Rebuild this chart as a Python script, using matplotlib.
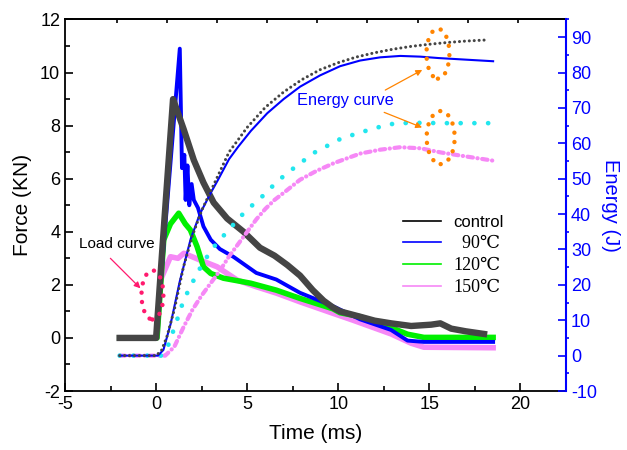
import matplotlib

matplotlib.use("Agg")
import matplotlib.pyplot as plt
from matplotlib.patches import Ellipse

plt.rcParams["font.family"] = ["Liberation Sans", "DejaVu Sans"]
plt.rcParams["axes.unicode_minus"] = False

# force (KN)
t_ctrl = [-2, 0.0, 0.45, 0.93, 1.52, 2.07, 2.6, 3.16, 3.9, 4.8, 5.7, 6.5, 7.2, 7.9, 8.6, 9.2, 9.7,
          10.1, 11.2, 12.0, 12.9, 14.0, 15.1, 15.6, 16.2, 17.0, 18.0]
f_ctrl = [0, 0, 4.4, 9.0, 7.85, 6.7, 5.85, 5.1, 4.5, 4.0, 3.4, 3.1, 2.75, 2.35, 1.8, 1.4, 1.15,
          1.0, 0.8, 0.65, 0.55, 0.45, 0.5, 0.55, 0.35, 0.25, 0.15]

t_90 = [-2, 0.0, 0.6, 1.3, 1.42, 1.55, 1.62, 1.72, 1.82, 1.95, 2.07, 2.3, 2.6, 3.0, 3.5, 4.26, 5.5,
        6.6, 7.9, 9.7, 11.2, 12.9, 13.8, 14.7, 18.5]
f_90 = [0, 0, 5.0, 10.9, 6.4, 6.9, 5.2, 6.5, 5.0, 5.8, 5.2, 4.9, 4.2, 3.7, 3.35, 3.05, 2.45,
        2.2, 1.7, 1.2, 0.7, 0.3, -0.1, -0.15, -0.15]

t_120 = [-2, 0.05, 0.42, 0.79, 1.24, 1.6, 1.88, 2.25, 2.6, 3.0, 3.7, 4.5, 5.2, 6.6, 7.9, 9.7, 10.1,
         11.2, 12.9, 13.8, 14.7, 18.5]
f_120 = [0, 0, 3.7, 4.3, 4.7, 4.3, 4.07, 3.44, 2.68, 2.43, 2.25, 2.15, 2.06, 1.8, 1.49, 1.1, 0.95,
         0.8, 0.39, 0.14, 0.02, 0.02]

t_150 = [-2, 0.05, 0.24, 0.79, 1.2, 1.52, 2.43, 3.35, 4.45, 5.5, 6.6, 7.9, 9.7, 10.8, 12.9, 14.0,
         14.7, 18.5]
f_150 = [0, 0, 2.18, 3.06, 3.0, 3.19, 2.93, 2.68, 2.18, 1.93, 1.69, 1.36, 0.93, 0.67, 0.15, -0.2,
         -0.35, -0.37]

# absorbed energy (J)
te_ctrl = [-2, 0.0, 0.3, 0.6, 1.0, 1.5, 2.0, 2.5, 3.0, 4.0, 5.0, 6.0, 7.0, 8.0, 9.0, 10.0, 11.0,
           12.0, 13.0, 14.0, 15.0, 16.0, 17.0, 18.1]
e_ctrl = [0, 0, 1.5, 5.5, 13, 25, 34, 41, 46.5, 57.5, 64.5, 70.2, 74.5, 78, 80.8, 82.8, 84.4,
          85.6, 86.6, 87.4, 88.0, 88.5, 88.9, 89.2]

te_90 = [-2, 0.1, 0.4, 0.8, 1.3, 1.9, 2.4, 3.0, 3.4, 4.0, 4.5, 5.2, 6.1, 7.0, 7.9, 9.0, 10.1,
         11.2, 12.3, 13.4, 14.5, 15.5, 16.5, 17.5, 18.5]
e_90 = [0, 0, 1.6, 9, 21, 33, 40, 46, 49.7, 55.5, 59, 63.5, 68.5, 72.5, 76, 79.2, 81.8,
        83.4, 84.3, 84.7, 84.5, 84.1, 83.8, 83.5, 83.2]

te_120 = [-2, 0.3, 0.6, 1.06, 1.52, 2.07, 2.6, 3.26, 4.08, 4.9, 5.73, 6.65, 7.2, 8.66, 10.1, 10.86,
          12.0, 13.07, 14.0, 16.0, 18.4]
e_120 = [0, 0, 2, 8.7, 15.8, 21.4, 26.5, 31.3, 36.1, 40.8, 44.5, 49.2, 51.6, 57.3, 61.2, 62.5,
         64.3, 65.6, 65.8, 65.7, 65.7]

te_150 = [-2, 0.5, 1.0, 1.5, 2.0, 2.5, 3.0, 3.5, 4.0, 4.5, 5.0, 5.5, 6.0, 6.5, 7.0, 7.9, 8.8, 9.76,
          10.5, 11.2, 12.3, 13.4, 14.5, 15.65, 17.0, 18.5]
e_150 = [0, 0, 2.5, 8, 13, 17, 20.5, 24, 28, 31.5, 35, 38.5, 41.5, 44, 46, 49.7, 52.2, 54.4,
         55.8, 57.1, 58.2, 58.9, 58.6, 57.4, 56.3, 55.1]

labels = ["control", "  90\u2103", "120\u2103", "150\u2103"]
gray, blue, green, pink, cyan = "#454545", "#0000ff", "#00f000", "#f688f6", "#22e6ee"

fig = plt.figure(figsize=(6.27, 4.5), dpi=100)
ax = fig.add_axes([0.1037, 0.1311, 0.7990, 0.8256])
ax2 = ax.twinx()

ax.plot(t_150, f_150, color=pink, lw=4.0, label=labels[3], zorder=2)
ax.plot(t_120, f_120, color=green, lw=4.0, label=labels[2], zorder=3)
ax.plot(t_90, f_90, color=blue, lw=2.8, label=labels[1], zorder=4)
ax.plot(t_ctrl, f_ctrl, color=gray, lw=4.6, label=labels[0], zorder=5)

ax2.plot(te_150, e_150, color=pink, lw=3, linestyle=(0, (1.3, 1.1, 0.05, 1.1)),
         dash_capstyle="round", zorder=2)
ax2.plot(te_120, e_120, color=cyan, lw=3.4, linestyle=(0, (0.01, 2.9)),
         dash_capstyle="round", zorder=3)
ax2.plot(te_90, e_90, color=blue, lw=1.5, zorder=4)
ax2.plot(te_ctrl, e_ctrl, color=gray, lw=2.2, linestyle=(0, (0.01, 1.6)),
         dash_capstyle="round", zorder=5)

ax.set_xlim(-5, 22.5)
ax.set_ylim(-2, 12)
ax2.set_ylim(-10, 95)
ax.set_xticks(range(-5, 21, 5))
ax.set_xticks([-2.5, 2.5, 7.5, 12.5, 17.5], minor=True)
ax.set_yticks(range(-2, 13, 2))
ax.set_yticks(range(-1, 12, 2), minor=True)
ax2.set_yticks(range(-10, 91, 10))
ax2.set_yticks(range(-5, 96, 10), minor=True)

ax.tick_params(which="both", direction="in", labelsize=13, width=1.2, right=False)
ax.tick_params(which="major", length=6)
ax.tick_params(which="minor", length=3.5)
ax2.tick_params(which="major", direction="in", length=6, width=1.2, colors=blue, labelsize=13)
ax2.tick_params(which="minor", direction="out", length=2.5, width=1.2, colors=blue)
top = ax.secondary_xaxis("top")
top.set_xticks([-2.15, 0.6, 3.35, 6.1, 8.85, 11.6, 14.35, 17.1, 19.85])
top.tick_params(direction="in", length=3, width=1.2, labeltop=False)
for name in ["left", "bottom", "top"]:
    ax.spines[name].set_linewidth(1.3)
    ax2.spines[name].set_visible(False)
top.spines["top"].set_linewidth(1.3)
ax.spines["right"].set_visible(False)
ax2.spines["right"].set_color(blue)
ax2.spines["right"].set_linewidth(1.5)

ax.set_xlabel("Time (ms)", fontsize=15, labelpad=8)
ax.set_ylabel("Force (KN)", fontsize=15, labelpad=6)
ax2.set_ylabel("Energy (J)", fontsize=14.5, color=blue, rotation=270, labelpad=17)

# annotations
orange, crimson = "#ff8400", "#ff1a6e"
for cx, cy, w, h in [(15.47, 10.71, 1.26, 1.88), (15.62, 7.55, 1.54, 2.0)]:
    el = Ellipse((cx, cy), w, h, transform=ax.transData, fill=False, edgecolor=orange, lw=3.2,
                 linestyle=(0, (0.01, 2.1)), zorder=6)
    el.set_capstyle("round")
    ax2.add_patch(el)
el = Ellipse((-0.2, 1.62), 1.2, 1.85, transform=ax.transData, fill=False, edgecolor=crimson,
             lw=3.2, linestyle=(0, (0.01, 2.1)), zorder=6)
el.set_capstyle("round")
ax2.add_patch(el)

arrow = dict(arrowstyle="-|>", lw=0.9, mutation_scale=9, shrinkA=0, shrinkB=0)
ax2.annotate("", xy=(14.61, 10.1), xytext=(12.58, 9.34), xycoords=ax.transData,
             textcoords=ax.transData, arrowprops=dict(arrow, color=orange))
ax2.annotate("", xy=(14.6, 7.93), xytext=(12.52, 8.5), xycoords=ax.transData,
             textcoords=ax.transData, arrowprops=dict(arrow, color=orange))
ax2.annotate("", xy=(-0.86, 1.87), xytext=(-2.51, 3.0), xycoords=ax.transData,
             textcoords=ax.transData, arrowprops=dict(arrow, color=crimson))
ax.text(7.75, 8.93, "Energy curve", color=blue, fontsize=11.8, va="center", ha="left")
ax.text(-4.26, 3.54, "Load curve", color="black", fontsize=11, va="center", ha="left")

handles, _ = ax.get_legend_handles_labels()
leg = ax.legend(handles[::-1], labels, loc="upper left", bbox_to_anchor=(0.645, 0.515),
                frameon=False, fontsize=12, handlelength=2.3, labelspacing=0.3,
                handletextpad=0.7)
leg.legend_handles[0].set_color("black")
for h in leg.legend_handles:
    h.set_linewidth(1.2)
for txt in leg.get_texts()[1:]:
    txt.set_fontfamily(["Liberation Serif", "DejaVu Serif"])
    txt.set_fontsize(13)

fig.savefig("out.png", dpi=100)
